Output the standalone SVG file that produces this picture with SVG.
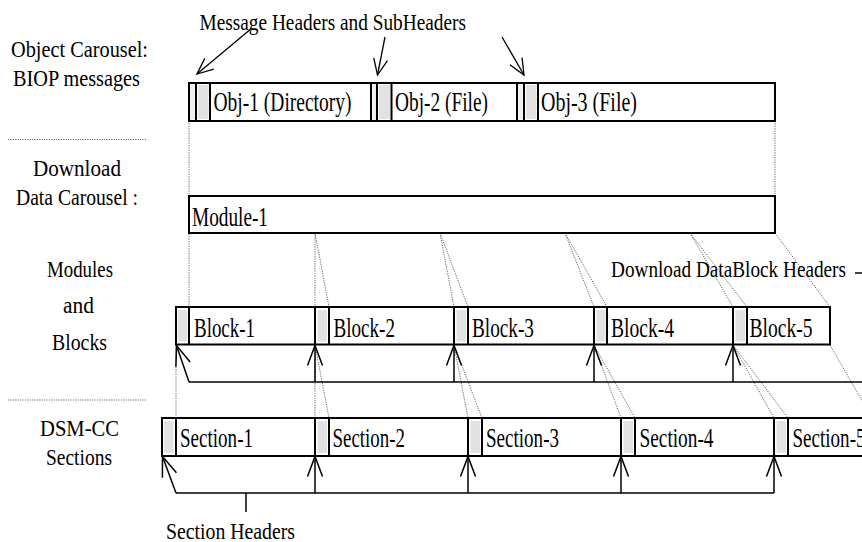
<svg xmlns="http://www.w3.org/2000/svg" width="862" height="542" viewBox="0 0 862 542">
<style>
text{font-family:"Liberation Serif","Times New Roman",serif;fill:#000}
.lbl{font-size:22.5px}
.big{font-size:27px}
.box{fill:#fff;stroke:#000;stroke-width:2}
.div{stroke:#000;stroke-width:2;fill:none}
.hdr{fill:#e2e2e2;stroke:none}
.strip{fill:#efefef;stroke:none}
.dot{stroke:#555;stroke-width:0.9;stroke-dasharray:1.2 1.2;fill:none}
.ln{stroke:#000;stroke-width:1.5;fill:none}
.arr{stroke:#000;stroke-width:1.5;fill:none;marker-end:url(#v)}
.arrs{stroke:#000;stroke-width:1.3;fill:none;marker-end:url(#vs)}
</style>
<defs>
<marker id="v" viewBox="-22 -10 24 20" refX="0" refY="0" markerWidth="24" markerHeight="20" markerUnits="userSpaceOnUse" orient="auto" overflow="visible">
<path d="M-20,-7.5 L0,0 L-20,7.5" fill="none" stroke="#000" stroke-width="1.5"/>
</marker>
<marker id="vs" viewBox="-22 -10 24 20" refX="0" refY="0" markerWidth="24" markerHeight="20" markerUnits="userSpaceOnUse" orient="auto" overflow="visible">
<path d="M-16,-7 L0,0 L-16,7" fill="none" stroke="#000" stroke-width="1.3"/>
</marker>
</defs>
<rect width="862" height="542" fill="#fff"/>

<g id="left-labels" font-family="Liberation Serif, serif">
<text class="lbl" x="11" y="57" textLength="137" lengthAdjust="spacingAndGlyphs">Object Carousel:</text>
<text class="lbl" x="13" y="86" textLength="127" lengthAdjust="spacingAndGlyphs">BIOP messages</text>
<text class="lbl" x="33" y="176" textLength="88" lengthAdjust="spacingAndGlyphs">Download</text>
<text class="lbl" x="16" y="205" textLength="122" lengthAdjust="spacingAndGlyphs">Data Carousel :</text>
<text class="lbl" x="47" y="277" textLength="66" lengthAdjust="spacingAndGlyphs">Modules</text>
<text class="lbl" x="63" y="313" textLength="31" lengthAdjust="spacingAndGlyphs">and</text>
<text class="lbl" x="52" y="350" textLength="55" lengthAdjust="spacingAndGlyphs">Blocks</text>
<text class="lbl" x="40" y="436" textLength="79" lengthAdjust="spacingAndGlyphs">DSM-CC</text>
<text class="lbl" x="46" y="465" textLength="66" lengthAdjust="spacingAndGlyphs">Sections</text>
<line class="dot" x1="8" y1="139.5" x2="146" y2="139.5"/>
<line class="dot" x1="8" y1="400" x2="146" y2="400"/>
</g>

<g id="connectors">
<line class="dot" x1="189" y1="121" x2="189" y2="307"/>
<line class="dot" x1="775" y1="121" x2="775" y2="196"/>
<line class="dot" x1="315" y1="196" x2="315" y2="418"/>
<line class="dot" x1="440" y1="196" x2="440" y2="233"/>
<line class="dot" x1="565" y1="196" x2="565" y2="233"/>
<line class="dot" x1="690" y1="196" x2="690" y2="233"/>
<line class="dot" x1="315" y1="233" x2="329" y2="307"/>
<line class="dot" x1="440" y1="233" x2="454" y2="307"/>
<line class="dot" x1="440" y1="233" x2="468" y2="307"/>
<line class="dot" x1="565" y1="233" x2="594" y2="307"/>
<line class="dot" x1="565" y1="233" x2="607" y2="307"/>
<line class="dot" x1="690" y1="233" x2="733" y2="307"/>
<line class="dot" x1="690" y1="233" x2="747" y2="307"/>
<line class="dot" x1="775" y1="233" x2="830" y2="307"/>
<line class="dot" x1="176" y1="345" x2="176" y2="418"/>
<line class="dot" x1="315" y1="345" x2="329" y2="418"/>
<line class="dot" x1="454" y1="345" x2="468" y2="418"/>
<line class="dot" x1="454" y1="345" x2="482" y2="418"/>
<line class="dot" x1="594" y1="345" x2="621" y2="418"/>
<line class="dot" x1="594" y1="345" x2="635" y2="418"/>
<line class="dot" x1="733" y1="345" x2="774" y2="418"/>
<line class="dot" x1="733" y1="345" x2="788" y2="418"/>
<line class="dot" x1="830" y1="345" x2="872" y2="418"/>
<line class="arrs" x1="252" y1="28" x2="197" y2="74"/>
<line class="arrs" x1="385" y1="37" x2="377.5" y2="75"/>
<line class="arrs" x1="502" y1="37" x2="524" y2="75"/>
<line class="ln" x1="189" y1="382" x2="862" y2="382"/>
<line class="arr" x1="189" y1="382" x2="176.5" y2="345.5"/>
<line class="arr" x1="315" y1="382" x2="315" y2="345.5"/>
<line class="arr" x1="454" y1="382" x2="454" y2="345.5"/>
<line class="arr" x1="594" y1="382" x2="594" y2="345.5"/>
<line class="arr" x1="733" y1="382" x2="733" y2="345.5"/>
<line class="ln" x1="855" y1="273" x2="862" y2="273"/>
<line class="ln" x1="176" y1="493" x2="774" y2="493"/>
<line class="arr" x1="176" y1="493" x2="162.5" y2="456.5"/>
<line class="arr" x1="315" y1="493" x2="315" y2="456.5"/>
<line class="arr" x1="468" y1="493" x2="468" y2="456.5"/>
<line class="arr" x1="621" y1="493" x2="621" y2="456.5"/>
<line class="arr" x1="774" y1="493" x2="774" y2="456.5"/>
<line class="ln" x1="246" y1="493" x2="246" y2="512"/>
</g>

<g id="biop-messages" font-family="Liberation Serif, serif">
<rect class="box" x="189" y="83" width="586" height="38"/>
<rect class="strip" x="190" y="84.5" width="5" height="35"/>
<rect class="hdr" x="198" y="85" width="10.5" height="34"/>
<rect class="strip" x="372.5" y="84.5" width="3.5" height="35"/>
<rect class="hdr" x="379" y="85" width="11" height="34"/>
<rect class="strip" x="518.5" y="84.5" width="4.5" height="35"/>
<rect class="hdr" x="526" y="85" width="10.5" height="34"/>
<path class="div" d="M196,83V121M210,83V121M371,83V121M377,83V121M391.5,83V121M517,83V121M524,83V121M538,83V121"/>
<text class="big" x="213.5" y="111" textLength="138" lengthAdjust="spacingAndGlyphs">Obj-1 (Directory)</text>
<text class="big" x="395" y="111" textLength="93" lengthAdjust="spacingAndGlyphs">Obj-2 (File)</text>
<text class="big" x="541" y="111" textLength="96" lengthAdjust="spacingAndGlyphs">Obj-3 (File)</text>
</g>

<g id="module-1" font-family="Liberation Serif, serif">
<rect class="box" x="189" y="196" width="586" height="37"/>
<text class="big" x="192" y="226" textLength="76" lengthAdjust="spacingAndGlyphs">Module-1</text>
</g>

<g id="blocks" font-family="Liberation Serif, serif">
<rect class="box" x="176" y="307" width="654" height="37.5"/>
<rect class="hdr" x="178" y="310" width="9.5" height="31.5"/>
<rect class="hdr" x="317.5" y="310" width="9.5" height="31.5"/>
<rect class="hdr" x="456.5" y="310" width="9.5" height="31.5"/>
<rect class="hdr" x="596.5" y="310" width="9" height="31.5"/>
<rect class="hdr" x="735.5" y="310" width="9.5" height="31.5"/>
<path class="div" d="M189,307V344.5M315,307V344.5M329,307V344.5M454,307V344.5M468,307V344.5M594,307V344.5M607,307V344.5M733,307V344.5M747,307V344.5"/>
<text class="big" x="194" y="337" textLength="61" lengthAdjust="spacingAndGlyphs">Block-1</text>
<text class="big" x="333.5" y="337" textLength="61.5" lengthAdjust="spacingAndGlyphs">Block-2</text>
<text class="big" x="472" y="337" textLength="62" lengthAdjust="spacingAndGlyphs">Block-3</text>
<text class="big" x="611" y="337" textLength="63" lengthAdjust="spacingAndGlyphs">Block-4</text>
<text class="big" x="749.5" y="337" textLength="63" lengthAdjust="spacingAndGlyphs">Block-5</text>
</g>

<g id="sections" font-family="Liberation Serif, serif">
<rect class="box" x="162" y="418" width="760" height="38"/>
<rect class="hdr" x="164" y="421" width="9.5" height="32"/>
<rect class="hdr" x="317.5" y="421" width="9.5" height="32"/>
<rect class="hdr" x="470.5" y="421" width="9.5" height="32"/>
<rect class="hdr" x="623.5" y="421" width="9.5" height="32"/>
<rect class="hdr" x="776.5" y="421" width="9.5" height="32"/>
<path class="div" d="M176,418V456M315,418V456M329,418V456M468,418V456M482,418V456M621,418V456M635,418V456M774,418V456M788,418V456"/>
<text class="big" x="180" y="447" textLength="73" lengthAdjust="spacingAndGlyphs">Section-1</text>
<text class="big" x="332.5" y="447" textLength="72.5" lengthAdjust="spacingAndGlyphs">Section-2</text>
<text class="big" x="486" y="447" textLength="73" lengthAdjust="spacingAndGlyphs">Section-3</text>
<text class="big" x="639.5" y="447" textLength="74" lengthAdjust="spacingAndGlyphs">Section-4</text>
<text class="big" x="792.5" y="447" textLength="73" lengthAdjust="spacingAndGlyphs">Section-5</text>
</g>

<g id="annotations" font-family="Liberation Serif, serif">
<text class="lbl" x="199.5" y="30" textLength="266.5" lengthAdjust="spacingAndGlyphs">Message Headers and SubHeaders</text>
<text class="lbl" x="611" y="277" textLength="235" lengthAdjust="spacingAndGlyphs">Download DataBlock Headers</text>
<text class="lbl" x="166" y="539" textLength="129" lengthAdjust="spacingAndGlyphs">Section Headers</text>
</g>
</svg>
